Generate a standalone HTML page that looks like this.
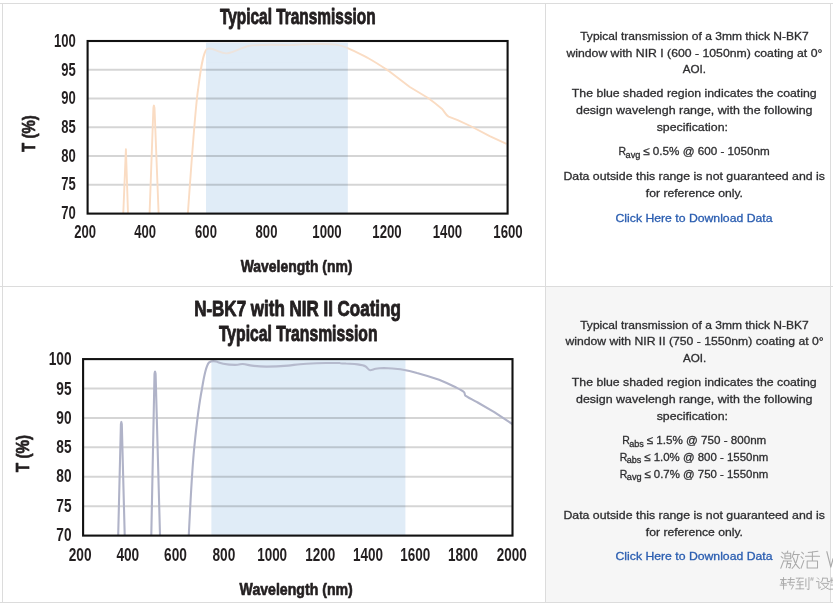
<!DOCTYPE html>
<html><head><meta charset="utf-8"><title>Typical Transmission</title>
<style>
html,body{margin:0;padding:0;background:#fff;}
body{width:833px;height:603px;position:relative;overflow:hidden;font-family:"Liberation Sans",sans-serif;}
.hl{position:absolute;left:0;width:833px;height:1px;background:#dcdcdc;}
.vl{position:absolute;width:1px;background:#dcdcdc;}
.gray{position:absolute;left:546px;top:287px;width:284px;height:315px;background:#f6f6f6;}
svg{position:absolute;left:0;top:0;font-family:"Liberation Sans",sans-serif;will-change:transform;}
</style></head><body>
<div class="gray"></div>
<div class="hl" style="top:3px"></div>
<div class="hl" style="top:286px"></div>
<div class="hl" style="top:602px"></div>
<div class="vl" style="left:2px;top:3px;height:600px"></div>
<div class="vl" style="left:545px;top:3px;height:600px"></div>
<div class="vl" style="left:830px;top:3px;height:600px"></div>
<svg width="833" height="603" viewBox="0 0 833 603">
<g id="chart1">
<rect x="206" y="42.8" width="141.8" height="170.79999999999998" fill="#e0ecf7"/>
<line x1="87.6" x2="507.6" y1="69.77" y2="69.77" stroke="#000" stroke-opacity="0.165" stroke-width="2"/>
<line x1="87.6" x2="507.6" y1="98.53" y2="98.53" stroke="#000" stroke-opacity="0.165" stroke-width="2"/>
<line x1="87.6" x2="507.6" y1="127.30" y2="127.30" stroke="#000" stroke-opacity="0.165" stroke-width="2"/>
<line x1="87.6" x2="507.6" y1="156.07" y2="156.07" stroke="#000" stroke-opacity="0.165" stroke-width="2"/>
<line x1="87.6" x2="507.6" y1="184.83" y2="184.83" stroke="#000" stroke-opacity="0.165" stroke-width="2"/>
<path d="M123.3 213 L125.9 149.3 L128 213" fill="none" stroke="#fadcc3" stroke-width="1.9" stroke-linejoin="round" stroke-linecap="butt"/>
<path d="M149.6 213 L153.4 108 Q153.9 103 154.5 108 L158.6 213" fill="none" stroke="#fadcc3" stroke-width="1.9" stroke-linejoin="round" stroke-linecap="butt"/>
<path d="M187.9 213 C191 170 195 110 198 90 C200.5 70 203 52 207 48.9 C211 47.5 214 49.5 218 51.2 C222 53 226 54 229 53 C236 51 242 47.5 249.6 45.8 C262 44.2 275 44.6 285 45 C293 45.6 296 44.6 302 44.4 C315 43.9 330 43.9 336 44.6 C342 45.6 345 46.8 347.1 47.8 C355 51 362 55 368.8 58.5 C376 62.5 382 66.5 388.2 70.6 L409.8 87 L428.1 98 C433 101.5 438 105.5 441.8 108.7 C444.5 111.5 446 115.5 448.6 116.7 L457.7 120.1 L471.4 126.5 L489.7 136.1 L506.5 143.8" fill="none" stroke="#fadcc3" stroke-width="1.9" stroke-linejoin="round" stroke-linecap="butt"/>
<rect x="206" y="42.8" width="141.8" height="20" fill="#e0ecf7" fill-opacity="0.5"/>
<rect x="87.6" y="41" width="420.0" height="172.6" fill="none" stroke="#111" stroke-width="2.1"/>
<text x="75.8" y="47.10" textLength="21.8" lengthAdjust="spacingAndGlyphs" font-size="17.6" font-weight="bold" fill="#231f20" text-anchor="end" >100</text>
<text x="75.8" y="75.70" textLength="14.5" lengthAdjust="spacingAndGlyphs" font-size="17.6" font-weight="bold" fill="#231f20" text-anchor="end" >95</text>
<text x="75.8" y="104.30" textLength="14.5" lengthAdjust="spacingAndGlyphs" font-size="17.6" font-weight="bold" fill="#231f20" text-anchor="end" >90</text>
<text x="75.8" y="132.90" textLength="14.5" lengthAdjust="spacingAndGlyphs" font-size="17.6" font-weight="bold" fill="#231f20" text-anchor="end" >85</text>
<text x="75.8" y="161.50" textLength="14.5" lengthAdjust="spacingAndGlyphs" font-size="17.6" font-weight="bold" fill="#231f20" text-anchor="end" >80</text>
<text x="75.8" y="190.10" textLength="14.5" lengthAdjust="spacingAndGlyphs" font-size="17.6" font-weight="bold" fill="#231f20" text-anchor="end" >75</text>
<text x="75.8" y="218.70" textLength="14.5" lengthAdjust="spacingAndGlyphs" font-size="17.6" font-weight="bold" fill="#231f20" text-anchor="end" >70</text>
<text x="74.30" y="238.1" textLength="21.8" lengthAdjust="spacingAndGlyphs" font-size="17.6" font-weight="bold" fill="#231f20" text-anchor="start" >200</text>
<text x="134.30" y="238.1" textLength="21.8" lengthAdjust="spacingAndGlyphs" font-size="17.6" font-weight="bold" fill="#231f20" text-anchor="start" >400</text>
<text x="195.10" y="238.1" textLength="21.8" lengthAdjust="spacingAndGlyphs" font-size="17.6" font-weight="bold" fill="#231f20" text-anchor="start" >600</text>
<text x="255.60" y="238.1" textLength="21.8" lengthAdjust="spacingAndGlyphs" font-size="17.6" font-weight="bold" fill="#231f20" text-anchor="start" >800</text>
<text x="312.30" y="238.1" textLength="29.4" lengthAdjust="spacingAndGlyphs" font-size="17.6" font-weight="bold" fill="#231f20" text-anchor="start" >1000</text>
<text x="372.30" y="238.1" textLength="29.4" lengthAdjust="spacingAndGlyphs" font-size="17.6" font-weight="bold" fill="#231f20" text-anchor="start" >1200</text>
<text x="432.70" y="238.1" textLength="29.4" lengthAdjust="spacingAndGlyphs" font-size="17.6" font-weight="bold" fill="#231f20" text-anchor="start" >1400</text>
<text x="493.30" y="238.1" textLength="29.4" lengthAdjust="spacingAndGlyphs" font-size="17.6" font-weight="bold" fill="#231f20" text-anchor="start" >1600</text>
<text x="220.0" y="23.8" textLength="155.6" lengthAdjust="spacingAndGlyphs" font-size="21.3" font-weight="bold" fill="#231f20" text-anchor="start"  stroke="#231f20" stroke-width="0.9" stroke-linejoin="round">Typical Transmission</text>
<text x="240.7" y="271.9" textLength="111.8" lengthAdjust="spacingAndGlyphs" font-size="17.4" font-weight="bold" fill="#231f20" text-anchor="start"  stroke="#231f20" stroke-width="0.7" stroke-linejoin="round">Wavelength (nm)</text>
<g transform="translate(34.8,133.6) rotate(-90)"><text x="-18.4" y="0" textLength="36.8" lengthAdjust="spacingAndGlyphs" font-size="18.4" font-weight="bold" fill="#231f20" text-anchor="start"  stroke="#231f20" stroke-width="0.7" stroke-linejoin="round">T (%)</text></g>
</g>
<g id="chart2">
<rect x="211.4" y="360.1" width="193.99999999999997" height="175.5" fill="#e0ecf7"/>
<line x1="83.1" x2="512.5" y1="388.52" y2="388.52" stroke="#000" stroke-opacity="0.165" stroke-width="2"/>
<line x1="83.1" x2="512.5" y1="417.93" y2="417.93" stroke="#000" stroke-opacity="0.165" stroke-width="2"/>
<line x1="83.1" x2="512.5" y1="447.35" y2="447.35" stroke="#000" stroke-opacity="0.165" stroke-width="2"/>
<line x1="83.1" x2="512.5" y1="476.77" y2="476.77" stroke="#000" stroke-opacity="0.165" stroke-width="2"/>
<line x1="83.1" x2="512.5" y1="506.18" y2="506.18" stroke="#000" stroke-opacity="0.165" stroke-width="2"/>
<path d="M118.2 535 L120.9 424 Q121.3 419.5 121.8 424 L124.7 535" fill="none" stroke="#b0b3c8" stroke-width="2.1" stroke-linejoin="round" stroke-linecap="butt"/>
<path d="M151.3 535 L154.5 374 Q155 369 155.6 374 L160 535" fill="none" stroke="#b0b3c8" stroke-width="2.1" stroke-linejoin="round" stroke-linecap="butt"/>
<path d="M188.8 535 C190.5 500 192 470 194.3 447 C196.5 425 199 404 202 388.7 C204 376 206 366 208.8 362.7 C211 361 214 361 216 361.6 C219 362.5 221 363.3 223.2 363.7 C228 364.6 233 365 237.6 364.8 C240 364.6 241 363.8 242.7 364 C246 364.4 249 365.2 252 365.6 C257 366.3 262 366.6 266.5 366.6 C274 366.6 281 366.2 288 365.6 C292 365.2 296 364.6 300 364.2 L306.6 363.8 C313 363.3 320 363 325.9 363 L339.7 363 C341 364 343 363.2 346 363.5 C350 363.8 354 364 357.6 364.4 C361 364.8 364 365.4 365.9 366.6 C367.5 368 368.5 370.2 370.1 370.2 C372 370.2 373.5 369.2 375.6 368.8 C378 368.3 381 368 383.9 368 C390 368.2 395 368.6 400.4 369.3 C406 370.2 412 371.4 417 372.9 C425 375 432 377.3 439.1 379.8 C445 382.2 450 384.5 455.7 387.3 C459 389 462 390.5 463.9 392 C465 393 464.6 394.8 465.3 395.6 C469 398 473 400 477.7 402.5 L494.3 412.1 L512.3 424" fill="none" stroke="#b0b3c8" stroke-width="2.1" stroke-linejoin="round" stroke-linecap="butt"/>
<rect x="211.4" y="360.1" width="193.99999999999997" height="20" fill="#e0ecf7" fill-opacity="0.12"/>
<rect x="83.1" y="359.1" width="429.4" height="176.5" fill="none" stroke="#111" stroke-width="2.1"/>
<text x="71.5" y="365.30" textLength="22.8" lengthAdjust="spacingAndGlyphs" font-size="18.2" font-weight="bold" fill="#231f20" text-anchor="end" >100</text>
<text x="71.5" y="394.55" textLength="15.2" lengthAdjust="spacingAndGlyphs" font-size="18.2" font-weight="bold" fill="#231f20" text-anchor="end" >95</text>
<text x="71.5" y="423.80" textLength="15.2" lengthAdjust="spacingAndGlyphs" font-size="18.2" font-weight="bold" fill="#231f20" text-anchor="end" >90</text>
<text x="71.5" y="453.05" textLength="15.2" lengthAdjust="spacingAndGlyphs" font-size="18.2" font-weight="bold" fill="#231f20" text-anchor="end" >85</text>
<text x="71.5" y="482.30" textLength="15.2" lengthAdjust="spacingAndGlyphs" font-size="18.2" font-weight="bold" fill="#231f20" text-anchor="end" >80</text>
<text x="71.5" y="511.55" textLength="15.2" lengthAdjust="spacingAndGlyphs" font-size="18.2" font-weight="bold" fill="#231f20" text-anchor="end" >75</text>
<text x="71.5" y="540.80" textLength="15.2" lengthAdjust="spacingAndGlyphs" font-size="18.2" font-weight="bold" fill="#231f20" text-anchor="end" >70</text>
<text x="68.70" y="561.1" textLength="22.8" lengthAdjust="spacingAndGlyphs" font-size="18.2" font-weight="bold" fill="#231f20" text-anchor="start" >200</text>
<text x="116.41" y="561.1" textLength="22.8" lengthAdjust="spacingAndGlyphs" font-size="18.2" font-weight="bold" fill="#231f20" text-anchor="start" >400</text>
<text x="164.12" y="561.1" textLength="22.8" lengthAdjust="spacingAndGlyphs" font-size="18.2" font-weight="bold" fill="#231f20" text-anchor="start" >600</text>
<text x="212.53" y="561.1" textLength="22.8" lengthAdjust="spacingAndGlyphs" font-size="18.2" font-weight="bold" fill="#231f20" text-anchor="start" >800</text>
<text x="257.14" y="561.1" textLength="30" lengthAdjust="spacingAndGlyphs" font-size="18.2" font-weight="bold" fill="#231f20" text-anchor="start" >1000</text>
<text x="305.36" y="561.1" textLength="30" lengthAdjust="spacingAndGlyphs" font-size="18.2" font-weight="bold" fill="#231f20" text-anchor="start" >1200</text>
<text x="353.07" y="561.1" textLength="30" lengthAdjust="spacingAndGlyphs" font-size="18.2" font-weight="bold" fill="#231f20" text-anchor="start" >1400</text>
<text x="400.28" y="561.1" textLength="30" lengthAdjust="spacingAndGlyphs" font-size="18.2" font-weight="bold" fill="#231f20" text-anchor="start" >1600</text>
<text x="447.99" y="561.1" textLength="30" lengthAdjust="spacingAndGlyphs" font-size="18.2" font-weight="bold" fill="#231f20" text-anchor="start" >1800</text>
<text x="496.70" y="561.1" textLength="30" lengthAdjust="spacingAndGlyphs" font-size="18.2" font-weight="bold" fill="#231f20" text-anchor="start" >2000</text>
<text x="194.2" y="316" textLength="206.6" lengthAdjust="spacingAndGlyphs" font-size="21.3" font-weight="bold" fill="#231f20" text-anchor="start"  stroke="#231f20" stroke-width="0.9" stroke-linejoin="round">N-BK7 with NIR II Coating</text>
<text x="218.9" y="341.1" textLength="158.6" lengthAdjust="spacingAndGlyphs" font-size="21.3" font-weight="bold" fill="#231f20" text-anchor="start"  stroke="#231f20" stroke-width="0.9" stroke-linejoin="round">Typical Transmission</text>
<text x="239.6" y="595.2" textLength="113.2" lengthAdjust="spacingAndGlyphs" font-size="17.4" font-weight="bold" fill="#231f20" text-anchor="start"  stroke="#231f20" stroke-width="0.7" stroke-linejoin="round">Wavelength (nm)</text>
<g transform="translate(29.1,453.5) rotate(-90)"><text x="-18.65" y="0" textLength="37.3" lengthAdjust="spacingAndGlyphs" font-size="18.6" font-weight="bold" fill="#231f20" text-anchor="start"  stroke="#231f20" stroke-width="0.7" stroke-linejoin="round">T (%)</text></g>
</g>
<g id="notes">
<text x="580.2" y="40.1" textLength="228.6" lengthAdjust="spacingAndGlyphs" font-size="11.4" fill="#2e2e30" stroke="#2e2e30" stroke-width="0.3">Typical transmission of a 3mm thick N-BK7</text>
<text x="566.4" y="56.6" textLength="256.0" lengthAdjust="spacingAndGlyphs" font-size="11.4" fill="#2e2e30" stroke="#2e2e30" stroke-width="0.3">window with NIR I (600 - 1050nm) coating at 0°</text>
<text x="682.7" y="73.3" textLength="23.3" lengthAdjust="spacingAndGlyphs" font-size="11.4" fill="#2e2e30" stroke="#2e2e30" stroke-width="0.3">AOI.</text>
<text x="571.8" y="97.2" textLength="244.9" lengthAdjust="spacingAndGlyphs" font-size="11.4" fill="#2e2e30" stroke="#2e2e30" stroke-width="0.3">The blue shaded region indicates the coating</text>
<text x="576.0" y="114.1" textLength="236.5" lengthAdjust="spacingAndGlyphs" font-size="11.4" fill="#2e2e30" stroke="#2e2e30" stroke-width="0.3">design wavelengh range, with the following</text>
<text x="656.7" y="130.9" textLength="71.3" lengthAdjust="spacingAndGlyphs" font-size="11.4" fill="#2e2e30" stroke="#2e2e30" stroke-width="0.3">specification:</text>
<text x="618.5" y="155.2" textLength="7.6" lengthAdjust="spacingAndGlyphs" font-size="11.4" fill="#2e2e30" stroke="#2e2e30" stroke-width="0.3">R</text>
<text x="625.6" y="157.8" textLength="14.8" lengthAdjust="spacingAndGlyphs" font-size="8.8" fill="#2e2e30" stroke="#2e2e30" stroke-width="0.3">avg</text>
<text x="643.1999999999999" y="155.2" textLength="126.5" lengthAdjust="spacingAndGlyphs" font-size="11.4" fill="#2e2e30" stroke="#2e2e30" stroke-width="0.3">≤ 0.5% @ 600 - 1050nm</text>
<text x="563.4" y="180.4" textLength="261.6" lengthAdjust="spacingAndGlyphs" font-size="11.4" fill="#2e2e30" stroke="#2e2e30" stroke-width="0.3">Data outside this range is not guaranteed and is</text>
<text x="645.8" y="196.9" textLength="97.2" lengthAdjust="spacingAndGlyphs" font-size="11.4" fill="#2e2e30" stroke="#2e2e30" stroke-width="0.3">for reference only.</text>
<text x="615.5" y="221.5" textLength="157.0" lengthAdjust="spacingAndGlyphs" font-size="11.4" fill="#2a5db0" stroke="#2a5db0" stroke-width="0.3">Click Here to Download Data</text>
<text x="580.2" y="328.8" textLength="228.6" lengthAdjust="spacingAndGlyphs" font-size="11.4" fill="#2e2e30" stroke="#2e2e30" stroke-width="0.3">Typical transmission of a 3mm thick N-BK7</text>
<text x="565.4" y="345.2" textLength="258.2" lengthAdjust="spacingAndGlyphs" font-size="11.4" fill="#2e2e30" stroke="#2e2e30" stroke-width="0.3">window with NIR II (750 - 1550nm) coating at 0°</text>
<text x="683.0" y="362.0" textLength="23.3" lengthAdjust="spacingAndGlyphs" font-size="11.4" fill="#2e2e30" stroke="#2e2e30" stroke-width="0.3">AOI.</text>
<text x="571.8" y="386.4" textLength="244.9" lengthAdjust="spacingAndGlyphs" font-size="11.4" fill="#2e2e30" stroke="#2e2e30" stroke-width="0.3">The blue shaded region indicates the coating</text>
<text x="576.0" y="403.2" textLength="236.5" lengthAdjust="spacingAndGlyphs" font-size="11.4" fill="#2e2e30" stroke="#2e2e30" stroke-width="0.3">design wavelengh range, with the following</text>
<text x="656.7" y="420.0" textLength="71.3" lengthAdjust="spacingAndGlyphs" font-size="11.4" fill="#2e2e30" stroke="#2e2e30" stroke-width="0.3">specification:</text>
<text x="622.2" y="443.9" textLength="7.6" lengthAdjust="spacingAndGlyphs" font-size="11.4" fill="#2e2e30" stroke="#2e2e30" stroke-width="0.3">R</text>
<text x="629.3000000000001" y="446.5" textLength="14.6" lengthAdjust="spacingAndGlyphs" font-size="8.8" fill="#2e2e30" stroke="#2e2e30" stroke-width="0.3">abs</text>
<text x="646.7" y="443.9" textLength="119.6" lengthAdjust="spacingAndGlyphs" font-size="11.4" fill="#2e2e30" stroke="#2e2e30" stroke-width="0.3">≤ 1.5% @ 750 - 800nm</text>
<text x="619.7" y="460.7" textLength="7.6" lengthAdjust="spacingAndGlyphs" font-size="11.4" fill="#2e2e30" stroke="#2e2e30" stroke-width="0.3">R</text>
<text x="626.8000000000001" y="463.3" textLength="14.6" lengthAdjust="spacingAndGlyphs" font-size="8.8" fill="#2e2e30" stroke="#2e2e30" stroke-width="0.3">abs</text>
<text x="644.2" y="460.7" textLength="124.1" lengthAdjust="spacingAndGlyphs" font-size="11.4" fill="#2e2e30" stroke="#2e2e30" stroke-width="0.3">≤ 1.0% @ 800 - 1550nm</text>
<text x="619.7" y="477.5" textLength="7.6" lengthAdjust="spacingAndGlyphs" font-size="11.4" fill="#2e2e30" stroke="#2e2e30" stroke-width="0.3">R</text>
<text x="626.8000000000001" y="480.1" textLength="14.8" lengthAdjust="spacingAndGlyphs" font-size="8.8" fill="#2e2e30" stroke="#2e2e30" stroke-width="0.3">avg</text>
<text x="644.4" y="477.5" textLength="123.9" lengthAdjust="spacingAndGlyphs" font-size="11.4" fill="#2e2e30" stroke="#2e2e30" stroke-width="0.3">≤ 0.7% @ 750 - 1550nm</text>
<text x="563.4" y="519.4" textLength="261.6" lengthAdjust="spacingAndGlyphs" font-size="11.4" fill="#2e2e30" stroke="#2e2e30" stroke-width="0.3">Data outside this range is not guaranteed and is</text>
<text x="645.8" y="536.2" textLength="97.2" lengthAdjust="spacingAndGlyphs" font-size="11.4" fill="#2e2e30" stroke="#2e2e30" stroke-width="0.3">for reference only.</text>
<text x="615.5" y="560.1" textLength="157.0" lengthAdjust="spacingAndGlyphs" font-size="11.4" fill="#2a5db0" stroke="#2a5db0" stroke-width="0.3">Click Here to Download Data</text>
</g>
<g id="watermark" fill="none" stroke="#a9a9a9" stroke-linecap="round" stroke-linejoin="round">
<g transform="translate(776,545) scale(0.0685)" stroke-width="15">
<path d="M85 105 L112 128 M75 170 L102 193 M70 340 L112 228"/>
<path d="M172 88 L160 120 M130 120 H215 V200 H130 Z M130 160 H215 M120 235 H228 M170 235 L150 332 M163 272 H215 L205 336 L185 328"/>
<path d="M265 90 L235 182 M250 140 H342 M322 140 C310 230 280 300 235 342 M255 190 C275 260 305 310 342 342"/>
<path d="M375 105 L402 130 M365 170 L392 195 M365 340 L407 225"/>
<path d="M470 108 L612 90 M430 165 H636 M531 100 V235 M455 235 H606 V336 H455 Z"/>
<path d="M742 98 L800 322 L833 200" stroke-width="17"/>
</g>
<g transform="translate(776,572) scale(0.0685)" stroke-width="14">
<path d="M65 110 H150 M110 80 V250 M60 192 H156 M97 110 L76 170 H150"/>
<path d="M176 110 H266 M165 150 H272 M216 80 L200 190 H256 L226 250"/>
<path d="M295 90 H400 M346 90 L310 150 L396 140 M305 186 H396 M350 150 V246 M290 246 H406"/>
<path d="M436 100 V212 M481 80 V256 L456 250"/>
<path d="M516 85 L510 120 M541 85 L535 120"/>
<path d="M605 85 L626 106 M590 140 H626 V240 L652 220"/>
<path d="M682 90 L672 138 L650 152 M682 90 H750 V140 H786 M665 166 H770 C745 215 705 245 660 256 M682 178 C710 220 745 245 790 256"/>
<path d="M795 120 H833 M815 85 V160 M795 250 H833 M800 190 H833"/>
</g>
</g>
</svg>
</body></html>
